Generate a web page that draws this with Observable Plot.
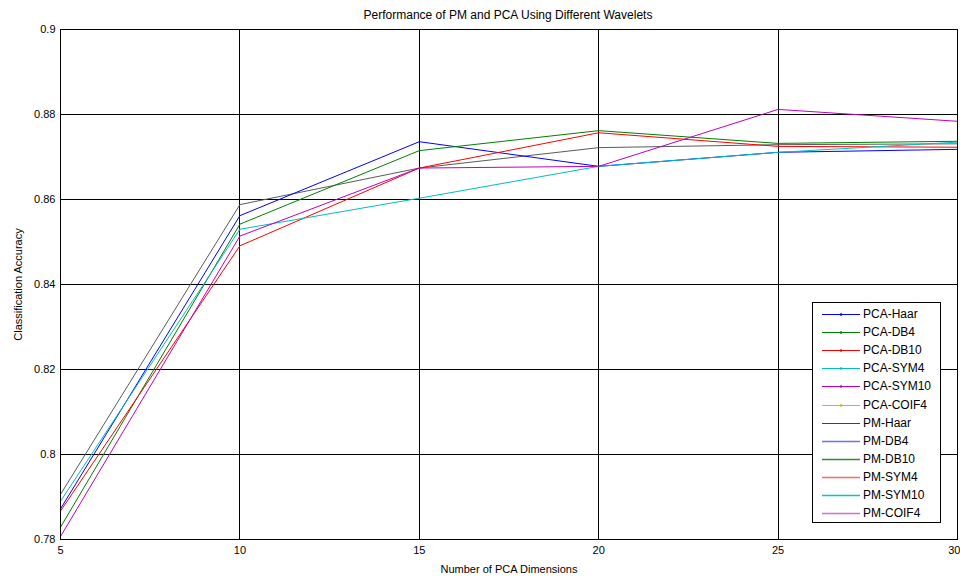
<!DOCTYPE html>
<html>
<head>
<meta charset="utf-8">
<script src="https://cdn.jsdelivr.net/npm/d3@7"></script>
<script src="https://cdn.jsdelivr.net/npm/@observablehq/plot@0.6"></script>
<style>
  html, body { margin: 0; padding: 0; background: #fff; }
  #wrap { position: relative; width: 960px; height: 576px; font-family: "Liberation Sans", Arial, sans-serif; }
  #title { height: 22px; width: 960px; text-align: center; font-size: 12px; line-height: 12px; padding-top: 9px; box-sizing: border-box; padding-left: 56px; }
  #legend { position: absolute; left: 812px; top: 302px; width: 129px; height: 221px; border: 1px solid #000; background: #fff; box-sizing: border-box; font-size: 12px; }
  .row { position: absolute; left: 0; height: 14px; }
  .row svg { position: absolute; left: 8px; top: 0; }
  .row span { position: absolute; left: 50px; top: 0; line-height: 14px; white-space: nowrap; }
</style>
</head>
<body>
<div id="wrap">
  <div id="title">Performance of PM and PCA Using Different Wavelets</div>
  <div id="chart"></div>
  <div id="legend"></div>
</div>
<script>
const dims = [5, 10, 15, 20, 25, 30];
const seriesNames = ["PM-Haar", "PCA-Haar", "PCA-DB4", "PCA-DB10", "PCA-SYM4", "PCA-SYM10"];
const seriesColors = ["#5a5a5a", "#0000ff", "#008000", "#ff0000", "#00bfbf", "#bf00bf"];
const pmHaar   = [0.7906, 0.8588, 0.8674, 0.8722, 0.8729, 0.8731];
const pcaHaar  = [0.7872, 0.8562, 0.8736, 0.8678, 0.8711, 0.8718];
const pcaDB4   = [0.7829, 0.8542, 0.8715, 0.8762, 0.8732, 0.8737];
const pcaDB10  = [0.7867, 0.8491, 0.8674, 0.8757, 0.8725, 0.8723];
const pcaSYM4  = [0.7890, 0.8530, 0.8603, 0.8678, 0.8711, 0.8735];
const pcaSYM10 = [0.7807, 0.8514, 0.8674, 0.8678, 0.8812, 0.8784];
const seriesValues = [pmHaar, pcaHaar, pcaDB4, pcaDB10, pcaSYM4, pcaSYM10];

const xTicks = [5, 10, 15, 20, 25, 30];
const yTicks = [0.78, 0.8, 0.82, 0.84, 0.86, 0.88, 0.9];
const yTickLabels = ["0.78", "0.8", "0.82", "0.84", "0.86", "0.88", "0.9"];

const legendNames = ["PCA-Haar", "PCA-DB4", "PCA-DB10", "PCA-SYM4", "PCA-SYM10", "PCA-COIF4",
                     "PM-Haar", "PM-DB4", "PM-DB10", "PM-SYM4", "PM-SYM10", "PM-COIF4"];
const legendColors = ["#0000ff", "#008000", "#ff0000", "#00bfbf", "#bf00bf", "#bfbf00",
                      "#404040", "#6f6fff", "#2e8b2e", "#ff6666", "#00c8c8", "#d070d0"];
const legendMarker = [true, true, true, true, true, true, false, false, false, false, false, false];

const rows = [];
seriesNames.forEach((s, i) => dims.forEach((d, j) => rows.push({series: s, dim: d, acc: seriesValues[i][j]})));

const chart = Plot.plot({
  width: 960,
  height: 554,
  marginLeft: 60,
  marginRight: 3,
  marginTop: 7,
  marginBottom: 37,
  style: {fontFamily: "'Liberation Sans', Arial, sans-serif", fontSize: "11px", background: "#fff", color: "#000"},
  x: {domain: [5, 30], label: null},
  y: {domain: [0.78, 0.9], label: null},
  color: {domain: seriesNames, range: seriesColors},
  marks: [
    Plot.gridX(xTicks, {stroke: "#000", strokeOpacity: 1, strokeWidth: 1, shapeRendering: "crispEdges"}),
    Plot.gridY(yTicks, {stroke: "#000", strokeOpacity: 1, strokeWidth: 1, shapeRendering: "crispEdges"}),
    Plot.line(rows, {x: "dim", y: "acc", z: "series", stroke: "series", strokeWidth: 1}),
    Plot.frame({stroke: "#000", strokeWidth: 1, shapeRendering: "crispEdges"}),
    Plot.axisX(xTicks.slice(0, -1), {tickSize: 0, tickPadding: 7, label: "Number of PCA Dimensions", labelAnchor: "center", labelOffset: 33, labelArrow: "none", fontSize: 11}),
    Plot.axisX(xTicks.slice(-1), {tickSize: 0, tickPadding: 7, label: null, textAnchor: "end", dx: 3, fontSize: 11}),
    Plot.axisY(yTicks, {tickSize: 0, tickPadding: 5, tickFormat: (d) => yTickLabels[yTicks.indexOf(d)], label: "Classification Accuracy", labelAnchor: "center", labelOffset: 46, labelArrow: "none", fontSize: 11})
  ]
});
document.getElementById("chart").appendChild(chart);

const legend = document.getElementById("legend");
legendNames.forEach((n, i) => {
  const row = document.createElement("div");
  row.className = "row";
  row.style.top = (4 + i * 18.1) + "px";
  const c = legendColors[i];
  row.innerHTML = `<svg width="40" height="14"><line x1="1" x2="39" y1="7.5" y2="7.5" stroke="${c}" stroke-width="${i >= 7 ? 1.6 : 1}"/>` +
    (legendMarker[i] ? `<circle cx="20" cy="7.5" r="1.3" fill="${c}"/>` : "") + `</svg><span>${n}</span>`;
  legend.appendChild(row);
});
</script>
</body>
</html>
